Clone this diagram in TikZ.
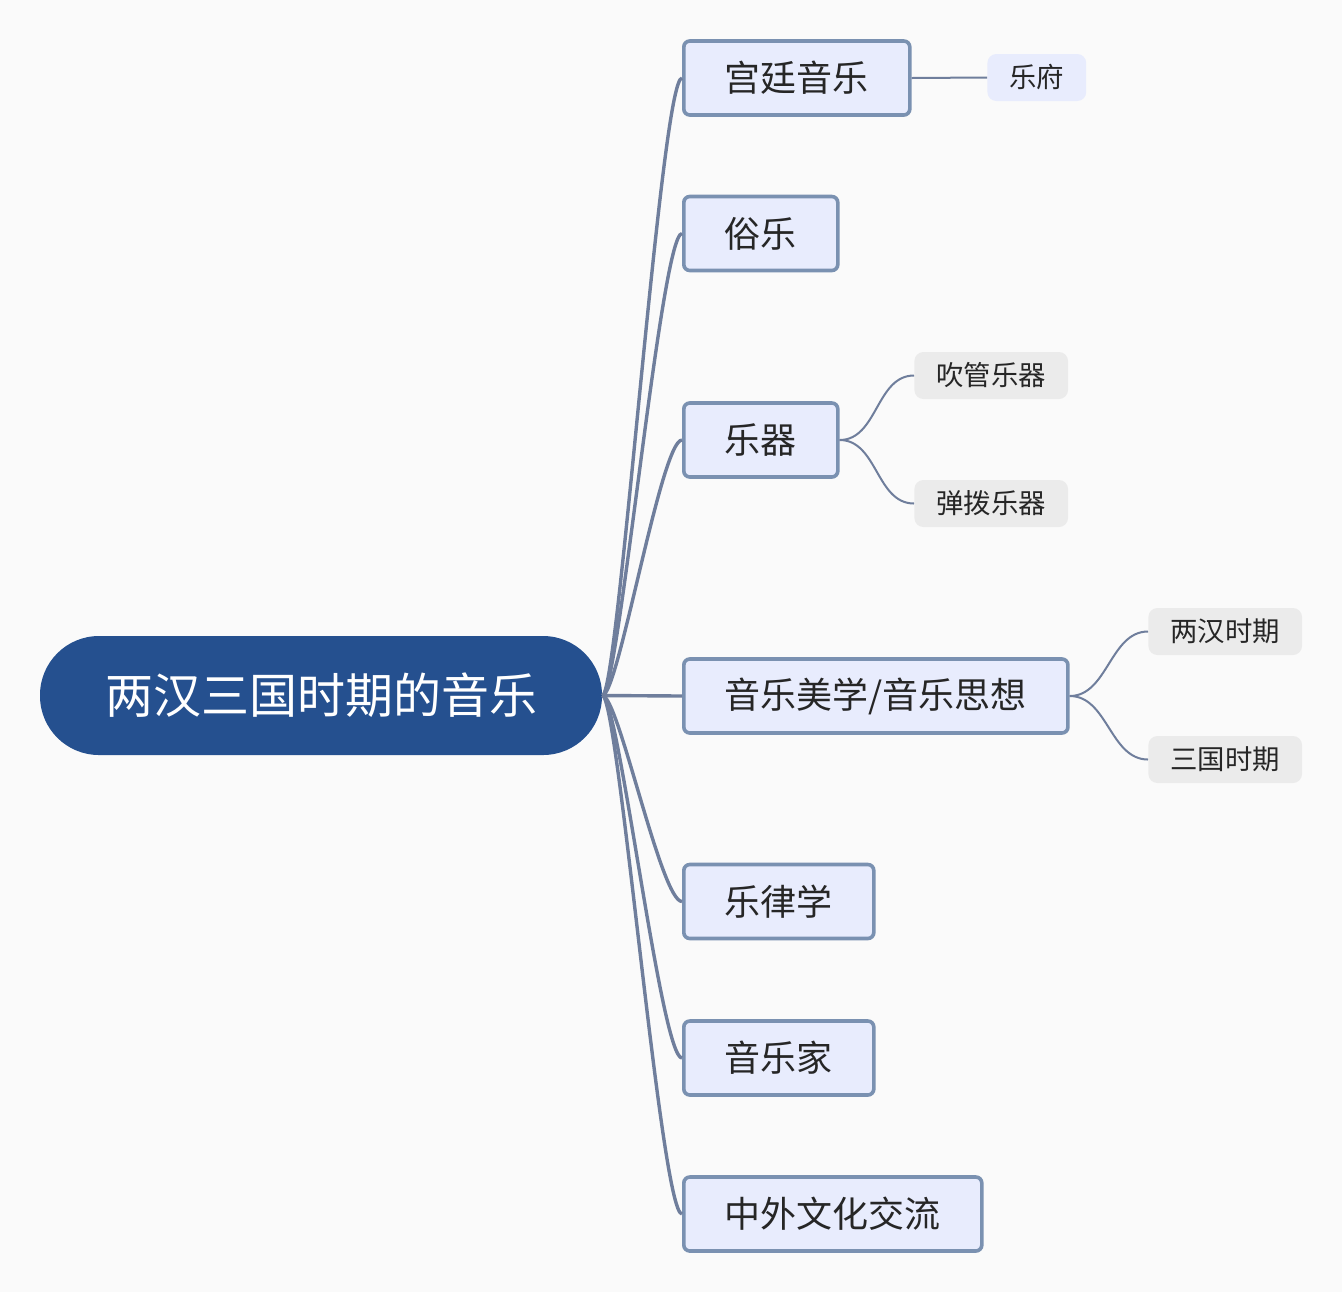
\documentclass[tikz,border=0pt]{standalone}
\usepackage{fontspec}
\setmainfont{Noto Sans CJK SC}
\usepackage{tikz}
\usetikzlibrary{positioning,calc}
\definecolor{rootblue}{HTML}{25508F}
\definecolor{boxfill}{HTML}{E8ECFD}
\definecolor{boxline}{HTML}{7A91B1}
\definecolor{leafgray}{HTML}{EBEBEB}
\definecolor{wire}{HTML}{6F7E9C}
\definecolor{paper}{HTML}{FAFAFA}
\begin{document}
\begin{tikzpicture}[x=0.5pt,y=-0.5pt,
  rootnode/.style={fill=rootblue,text=white,rounded corners=29.5pt,minimum width=281pt,minimum height=59.5pt,inner sep=0pt,font=\fontsize{24}{28}\selectfont},
  branch/.style={draw=boxline,fill=boxfill,line width=1.8pt,rounded corners=3pt,anchor=west,inner xsep=20.5pt,inner ysep=0pt,minimum height=37pt,text=black!85,font=\fontsize{18}{21}\selectfont},
  leaf/.style={fill=leafgray,rounded corners=4.5pt,anchor=west,inner xsep=11pt,inner ysep=0pt,minimum height=23.5pt,text=black!85,font=\fontsize{13.7}{16}\selectfont},
  trunk/.style={draw=wire,line width=1.7pt},
  twig/.style={draw=wire,line width=1pt}]
  \fill[paper] (0,0) rectangle (1342,1292);
  \useasboundingbox (0,0) rectangle (1342,1292);
  \node[rootnode] (root) at (321,695.5) {两汉三国时期的音乐};
  \node[branch] (gongting) at (682,78) {宫廷音乐};
  \node[branch] (suyue) at (682,233.5) {俗乐};
  \node[branch] (yueqi) at (682,440) {乐器};
  \node[branch] (meixue) at (682,696) {音乐美学/音乐思想};
  \node[branch] (yuelv) at (682,901.5) {乐律学};
  \node[branch] (yinyuejia) at (682,1058) {音乐家};
  \node[branch] (jiaoliu) at (682,1214) {中外文化交流};
  \node[leaf,fill=boxfill] (yuefu) at (987,77.5) {乐府};
  \node[leaf] (chuiguan) at (914,375.5) {吹管乐器};
  \node[leaf] (tanbo) at (914,503.5) {弹拨乐器};
  \node[leaf] (lianghan) at (1148,631.5) {两汉时期};
  \node[leaf] (sanguo) at (1148,759.5) {三国时期};
  \foreach \b in {gongting,suyue,yueqi,yuelv,yinyuejia,jiaoliu}
    \draw[trunk] (root.east) .. controls +(16,0) and +(-21,0) .. (\b.west);
  \draw[trunk] (root.east) -- (meixue.west);
  \draw[twig] (gongting.east) -- (yuefu.west);
  \foreach \p/\c in {yueqi/chuiguan,yueqi/tanbo,meixue/lianghan,meixue/sanguo}
    \draw[twig] (\p.east) .. controls +(38,0) and +(-38,0) .. (\c.west);
\end{tikzpicture}
\end{document}
